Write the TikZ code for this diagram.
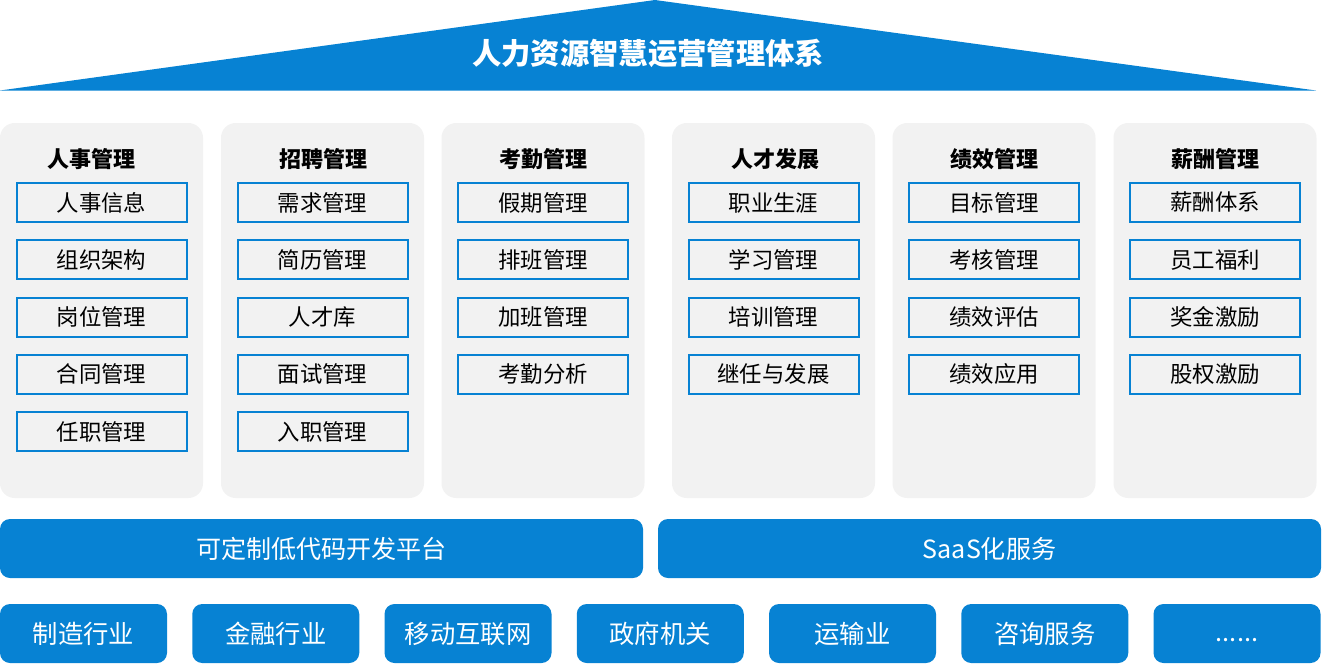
\documentclass[tikz,border=0pt]{standalone}
\usepackage{fontspec}
\setmainfont{Noto Sans CJK SC}
\definecolor{roofblue}{HTML}{0782D3}
\definecolor{panelgray}{HTML}{F2F2F2}
\newcommand{\moredots}{\raisebox{-6pt}[0pt][0pt]{......}}

\begin{document}
\begin{tikzpicture}[x=0.75pt,y=0.75pt,yscale=-1,xscale=1,
  colbox/.style={fill=panelgray,rounded corners=11pt,inner sep=0pt,
    minimum width=152.25pt,minimum height=281.25pt},
  headtext/.style={font=\fontsize{16.5}{20}\selectfont\bfseries,text=black,inner sep=0pt},
  itembox/.style={draw=roofblue,line width=1.5pt,fill=panelgray,inner sep=0pt,
    minimum width=127.5pt,minimum height=29.25pt,font=\fontsize{16.8}{20}\selectfont},
  barbox/.style={fill=roofblue,rounded corners=7.5pt,inner sep=0pt,text=white,
    minimum height=44.25pt,font=\fontsize{18.8}{22}\selectfont},
  tradebox/.style={fill=roofblue,rounded corners=7.5pt,inner sep=0pt,text=white,
    minimum width=125.25pt,minimum height=44.25pt,font=\fontsize{19}{22}\selectfont},
]
  \useasboundingbox (0,0) rectangle (1322,664);

  % roof
  \fill[roofblue] (0,90.5) -- (655,0) -- (1316,90.5) -- cycle;
  \node[text=white,font=\fontsize{22}{26}\selectfont\bfseries,inner sep=0pt] (title) at (648,53) {人力资源智慧运营管理体系};

  % modules
  \foreach \n/\cx/\hx/\head/\items in {
    1/101.5/91.5/人事管理/{人事信息,组织架构,岗位管理,合同管理,任职管理},
    2/322.5/323/招聘管理/{需求管理,简历管理,人才库,面试管理,入职管理},
    3/543/543/考勤管理/{假期管理,排班管理,加班管理,考勤分析},
    4/773.5/775/人才发展/{职业生涯,学习管理,培训管理,继任与发展},
    5/994/994/绩效管理/{目标管理,考核管理,绩效评估,绩效应用},
    6/1215/1215/薪酬管理/{薪酬体系,员工福利,奖金激励,股权激励}}
  {
    \node[colbox] (col\n) at (\cx,310.5) {};
    \node[headtext] (head\n) at (\hx,159) {\head};
    \foreach \t [count=\i] in \items {
      \pgfmathsetmacro\iy{202.5+(\i-1)*57.25}
      \node[itembox] (item\n-\i) at (\cx,\iy) {\t};
    }
  }

  % platform
  \node[barbox,minimum width=482.25pt] (lowcode) at (321.5,548.5) {可定制低代码开发平台};
  \node[barbox,minimum width=497.25pt] (saas) at (989.5,548.5) {SaaS化服务};

  % industries
  \foreach \t [count=\i] in {制造行业,金融行业,移动互联网,政府机关,运输业,咨询服务,\moredots} {
    \pgfmathsetmacro\tx{83.5+(\i-1)*192.25}
    \node[tradebox] (trade\i) at (\tx,633.5) {\t};
  }
\end{tikzpicture}
\end{document}
